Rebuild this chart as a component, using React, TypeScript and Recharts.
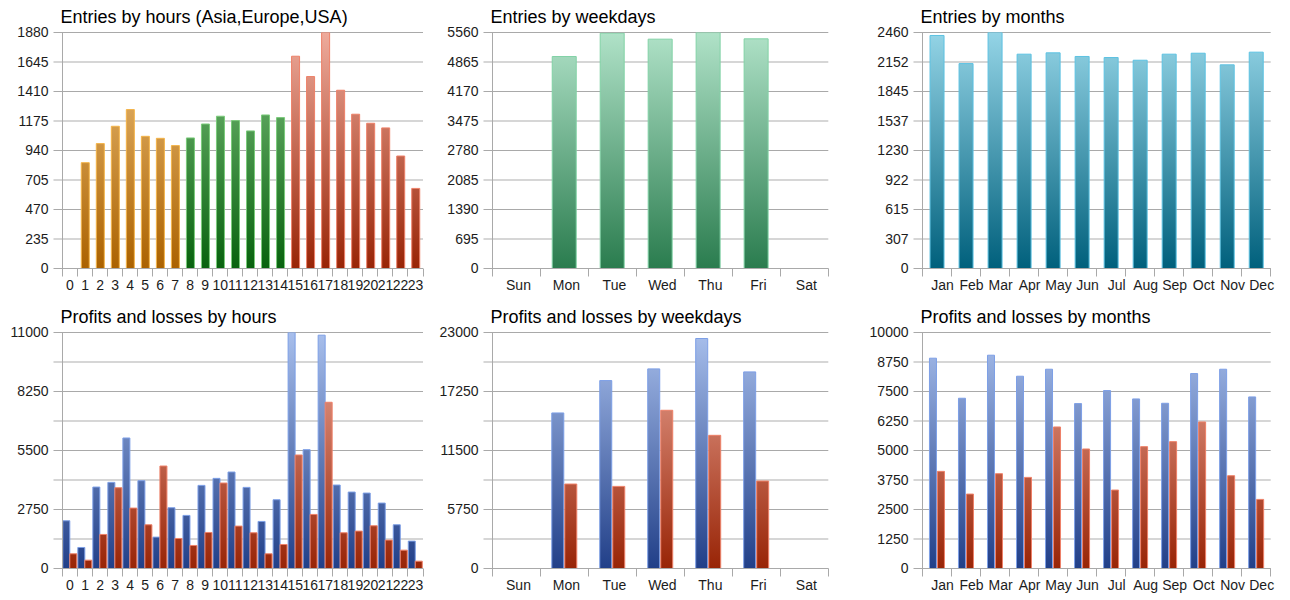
import React from 'react';
import { BarChart, Bar, XAxis, YAxis, CartesianGrid, Cell } from 'recharts';

// ---------- data ----------
const hours = ['0','1','2','3','4','5','6','7','8','9','10','11','12','13','14','15','16','17','18','19','20','21','22','23'];
const hourSessions = ['Asia','Asia','Asia','Asia','Asia','Asia','Asia','Asia','Europe','Europe','Europe','Europe','Europe','Europe','Europe','USA','USA','USA','USA','USA','USA','USA','USA','USA'];
const hourEntries = [0, 843, 995, 1133, 1266, 1053, 1037, 979, 1040, 1151, 1213, 1178, 1096, 1223, 1202, 1691, 1529, 1880, 1420, 1229, 1157, 1120, 896, 638];
const hourProfits = [2225, 980, 3796, 4014, 6083, 4092, 1463, 2832, 2474, 3874, 4201, 4496, 3781, 2194, 3205, 11000, 5539, 10875, 3890, 3563, 3516, 3050, 2038, 1276];
const hourLosses = [685, 389, 1587, 3765, 2816, 2038, 4776, 1400, 1074, 1680, 3983, 1976, 1665, 685, 1120, 5290, 2520, 7748, 1665, 1743, 1992, 1323, 856, 342];

const weekdays = ['Sun','Mon','Tue','Wed','Thu','Fri','Sat'];
const weekdayEntries = [0, 4994, 5544, 5403, 5558, 5411, 0];
const weekdayProfits = [0, 15160, 18315, 19454, 22414, 19161, 0];
const weekdayLosses = [0, 8231, 8003, 15420, 12980, 8523, 0];

const months = ['Jan','Feb','Mar','Apr','May','Jun','Jul','Aug','Sep','Oct','Nov','Dec'];
const monthEntries = [2429, 2136, 2460, 2234, 2248, 2210, 2199, 2171, 2234, 2244, 2123, 2255];
const monthProfits = [8911, 7214, 9038, 8147, 8444, 6987, 7539, 7185, 7001, 8260, 8444, 7270];
const monthLosses = [4116, 3154, 4017, 3861, 5997, 5064, 3324, 5163, 5375, 6209, 3932, 2928];

const hourEntryTicks = [0, 235, 470, 705, 940, 1175, 1410, 1645, 1880];
const hourEntryLabels = ['0','235','470','705','940','1175','1410','1645','1880'];
const weekdayEntryTicks = [0, 695, 1390, 2085, 2780, 3475, 4170, 4865, 5560];
const weekdayEntryLabels = ['0','695','1390','2085','2780','3475','4170','4865','5560'];
const monthEntryTicks = [0, 307.5, 615, 922.5, 1230, 1537.5, 1845, 2152.5, 2460];
const monthEntryLabels = ['0','307','615','922','1230','1537','1845','2152','2460'];
const hourPLTicks = [0, 1375, 2750, 4125, 5500, 6875, 8250, 9625, 11000];
const hourPLLabels = ['0','','2750','','5500','','8250','','11000'];
const weekdayPLTicks = [0, 2875, 5750, 8625, 11500, 14375, 17250, 20125, 23000];
const weekdayPLLabels = ['0','','5750','','11500','','17250','','23000'];
const monthPLTicks = [0, 1250, 2500, 3750, 5000, 6250, 7500, 8750, 10000];
const monthPLLabels = ['0','1250','2500','3750','5000','6250','7500','8750','10000'];

// ---------- style ----------
const FONT = '"Liberation Sans", Arial, sans-serif';
const W = 430;
const H = 300;
const PL = 62.5;
const PT = 32.5;
const PB = 268.5;
const GRID_DARK = '#a9a9a9';
const GRID_LIGHT = '#d6d6d6';
const TEXT = '#1c1c1c';

type Grad = { id: string; top: string; bottom: string };
const GRADS: Grad[] = [
  { id: 'orange', top: '#eec27e', bottom: '#ab6200' },
  { id: 'green', top: '#80c280', bottom: '#08620e' },
  { id: 'red', top: '#eeab9c', bottom: '#982406' },
  { id: 'blue', top: '#a8bfec', bottom: '#213f88' },
  { id: 'mint', top: '#b0e2c8', bottom: '#2a7c4e' },
  { id: 'teal', top: '#94d4e6', bottom: '#00607c' },
];
const STROKES: Record<string, string> = {
  orange: '#f4b448',
  green: '#7acb7a',
  red: '#ee8068',
  blue: '#7d9fe6',
  mint: '#82d2a6',
  teal: '#5cc2e2',
};
const sessionColor: Record<string, string> = { Asia: 'orange', Europe: 'green', USA: 'red' };

type BarDef = { key: string; color: string; cellColors?: string[] };
type PanelProps = {
  id: string;
  col: number;
  row: number;
  title: string;
  cats: string[];
  series: Record<string, number[]>;
  bars: BarDef[];
  ticks: number[];
  tickLabels: string[];
  plotRight: number;
  gap: string | number;
  barGap: number;
  labelDx: number;
};

function Panel(p: PanelProps) {
  const n = p.cats.length;
  const plotW = p.plotRight - PL;
  const bw = plotW / n;
  const max = p.ticks[p.ticks.length - 1];
  const step = (PB - PT) / (p.ticks.length - 1);
  const data = p.cats.map((c, i) => {
    const row: Record<string, any> = { cat: c };
    Object.keys(p.series).forEach((k) => (row[k] = p.series[k][i]));
    return row;
  });

  const gridLine = (lp: any) => {
    const y = lp.y1;
    const idx = Math.round((PB - y) / step);
    const major = idx % 2 === 0;
    return (
      <line
        key={`g-${p.id}-${idx}`}
        x1={PL - 9}
        x2={p.plotRight}
        y1={y}
        y2={y}
        stroke={major ? GRID_DARK : GRID_LIGHT}
        strokeWidth={major ? 1 : 2}
      />
    );
  };

  const xTick = (tp: any) => {
    const { x, payload } = tp;
    const i = payload && payload.index != null ? payload.index : tp.index;
    const lx = Math.floor(x - bw / 2) + 0.5;
    const rx = Math.floor(x + bw / 2) + 0.5;
    return (
      <g key={`xt-${p.id}-${i}`}>
        <line x1={lx} x2={lx} y1={PB} y2={PB + 8} stroke={GRID_DARK} />
        {i === n - 1 ? <line x1={rx} x2={rx} y1={PB} y2={PB + 8} stroke={GRID_DARK} /> : null}
        <text x={x + p.labelDx} y={PB + 21} textAnchor="middle" fill={TEXT} fontSize={14} fontFamily={FONT}>
          {payload.value}
        </text>
      </g>
    );
  };

  return (
    <div style={{ position: 'absolute', left: p.col * W, top: p.row * H, width: W, height: H }}>
      <div style={{ position: 'absolute', left: 0, top: 0 }}>
        <BarChart
          width={W}
          height={H}
          data={data}
          margin={{ top: PT, right: W - p.plotRight, bottom: 0, left: 0 }}
          barCategoryGap={p.gap}
          barGap={p.barGap}
        >
          <defs>
            {GRADS.map((g) => (
              <linearGradient key={g.id} id={`${p.id}-${g.id}`} gradientUnits="userSpaceOnUse" x1={0} y1={PT} x2={0} y2={PB}>
                <stop offset="0%" stopColor={g.top} />
                <stop offset="100%" stopColor={g.bottom} />
              </linearGradient>
            ))}
          </defs>
          <CartesianGrid vertical={false} horizontal={gridLine} />
          <XAxis
            dataKey="cat"
            interval={0}
            tickLine={false}
            axisLine={{ stroke: GRID_DARK }}
            tickSize={0}
            tickMargin={0}
            height={H - PB}
            tick={xTick}
          />
          <YAxis
            width={PL}
            domain={[0, max]}
            ticks={p.ticks}
            interval={0}
            allowDataOverflow
            tickLine={false}
            axisLine={{ stroke: GRID_DARK }}
            tickSize={9}
            tickMargin={5}
            tick={{ fill: TEXT, fontSize: 14, fontFamily: FONT }}
            tickFormatter={(v: number) => {
              const i = p.ticks.indexOf(v);
              return i >= 0 ? p.tickLabels[i] : '';
            }}
          />
          {p.bars.map((b) => (
            <Bar
              key={b.key}
              dataKey={b.key}
              fill={`url(#${p.id}-${b.color})`}
              stroke={STROKES[b.color]}
              strokeWidth={1}
              isAnimationActive={false}
            >
              {b.cellColors
                ? b.cellColors.map((c, i) => (
                    <Cell key={`c-${i}`} fill={`url(#${p.id}-${c})`} stroke={STROKES[c]} />
                  ))
                : null}
            </Bar>
          ))}
        </BarChart>
      </div>
      <svg width={W} height={30} style={{ position: 'absolute', left: 0, top: 0 }}>
        <text x={60.5} y={22.7} fill="#000" fontSize={18} fontFamily={FONT}>
          {p.title}
        </text>
      </svg>
    </div>
  );
}

export default function App() {
  const hourCellColors = hourSessions.map((s) => sessionColor[s]);
  return (
    <div style={{ position: 'absolute', left: 0, top: 0, width: 1290, height: 600, background: '#fff', overflow: 'hidden' }}>
      <Panel
        id="p1"
        col={0}
        row={0}
        title="Entries by hours (Asia,Europe,USA)"
        cats={hours}
        series={{ entries: hourEntries }}
        bars={[{ key: 'entries', color: 'orange', cellColors: hourCellColors }]}
        ticks={hourEntryTicks}
        tickLabels={hourEntryLabels}
        plotRight={423}
        gap="25%"
        barGap={0}
        labelDx={0}
      />
      <Panel
        id="p2"
        col={1}
        row={0}
        title="Entries by weekdays"
        cats={weekdays}
        series={{ entries: weekdayEntries }}
        bars={[{ key: 'entries', color: 'mint' }]}
        ticks={weekdayEntryTicks}
        tickLabels={weekdayEntryLabels}
        plotRight={398.3}
        gap="24.5%"
        barGap={0}
        labelDx={2}
      />
      <Panel
        id="p3"
        col={2}
        row={0}
        title="Entries by months"
        cats={months}
        series={{ entries: monthEntries }}
        bars={[{ key: 'entries', color: 'teal' }]}
        ticks={monthEntryTicks}
        tickLabels={monthEntryLabels}
        plotRight={410.7}
        gap="26%"
        barGap={0}
        labelDx={5.5}
      />
      <Panel
        id="p4"
        col={0}
        row={1}
        title="Profits and losses by hours"
        cats={hours}
        series={{ profits: hourProfits, losses: hourLosses }}
        bars={[{ key: 'profits', color: 'blue' }, { key: 'losses', color: 'red' }]}
        ticks={hourPLTicks}
        tickLabels={hourPLLabels}
        plotRight={423}
        gap="2%"
        barGap={0}
        labelDx={0}
      />
      <Panel
        id="p5"
        col={1}
        row={1}
        title="Profits and losses by weekdays"
        cats={weekdays}
        series={{ profits: weekdayProfits, losses: weekdayLosses }}
        bars={[{ key: 'profits', color: 'blue' }, { key: 'losses', color: 'red' }]}
        ticks={weekdayPLTicks}
        tickLabels={weekdayPLLabels}
        plotRight={398.3}
        gap="23.6%"
        barGap={1}
        labelDx={2}
      />
      <Panel
        id="p6"
        col={2}
        row={1}
        title="Profits and losses by months"
        cats={months}
        series={{ profits: monthProfits, losses: monthLosses }}
        bars={[{ key: 'profits', color: 'blue' }, { key: 'losses', color: 'red' }]}
        ticks={monthPLTicks}
        tickLabels={monthPLLabels}
        plotRight={410.7}
        gap="24%"
        barGap={1}
        labelDx={5.5}
      />
    </div>
  );
}
